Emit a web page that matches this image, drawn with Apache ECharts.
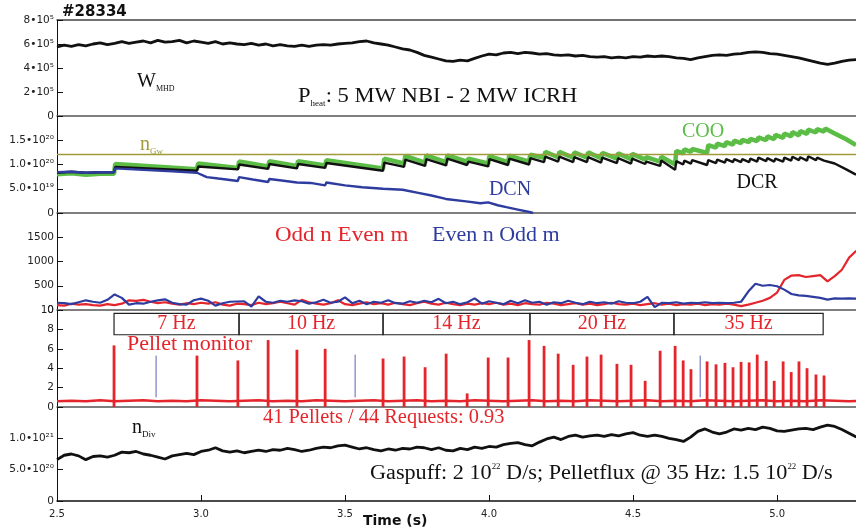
<!DOCTYPE html>
<html>
<head>
<meta charset="utf-8">
<script src="https://cdn.jsdelivr.net/npm/echarts@6/dist/echarts.min.js"></script>
<style>
  html, body { margin: 0; padding: 0; background: #fff; }
  #chart { width: 856px; height: 530px; }
</style>
</head>
<body>
<div id="chart"></div>
<script>
// evenly sampled traces start at T0 and step by DT seconds
const T0 = 2.5;
const DT = 0.025;
const T_MIN = 2.5;
const T_MAX = 5.274;

// W_MHD in units of 1e5 J
const wmhd = [
  5.75, 5.9, 5.8, 5.95, 5.85, 6.0, 6.1, 5.95, 6.05, 6.2,
  6.05, 6.15, 6.25, 6.1, 6.3, 6.15, 6.2, 6.3, 6.1, 6.25,
  6.15, 6.05, 6.2, 6.0, 6.1, 6.0, 5.95, 6.05, 5.9, 6.0,
  5.85, 5.95, 5.85, 5.8, 5.9, 5.8, 5.9, 5.95, 5.9, 6.0,
  6.05, 6.1, 6.2, 6.25, 6.1, 6.0, 5.9, 5.75, 5.6, 5.5,
  5.3, 5.05, 4.9, 4.75, 4.6, 4.55, 4.65, 4.6, 4.8, 5.0,
  5.15, 5.1, 5.25, 5.3, 5.2, 5.3, 5.25, 5.15, 5.2, 5.1,
  5.05, 5.1, 5.0, 5.05, 4.95, 4.9, 4.95, 4.85, 4.9, 4.85,
  4.95, 4.9, 5.0, 4.95, 5.0, 4.95, 4.85, 4.8, 4.7, 4.85,
  4.95, 5.05, 5.1, 5.05, 5.15, 5.2, 5.3, 5.35, 5.3, 5.2,
  5.15, 5.05, 4.95, 4.85, 4.7, 4.55, 4.4, 4.3, 4.4, 4.55,
  4.65, 4.7
];

// line densities in units of 1e19 m^-3, sampled around each pellet
const denT = [
  2.50, 2.55, 2.60, 2.65,
  2.698, 2.702, 2.986, 2.990, 3.128, 3.132, 3.233, 3.237, 3.333, 3.337,
  3.431, 3.435, 3.632, 3.636, 3.705, 3.709, 3.778, 3.782, 3.851, 3.855,
  3.924, 3.928, 3.997, 4.001, 4.066, 4.070, 4.139, 4.143, 4.191, 4.195,
  4.240, 4.244, 4.292, 4.296, 4.340, 4.344, 4.389, 4.393, 4.444, 4.448,
  4.493, 4.497, 4.542, 4.546, 4.594, 4.598, 4.646, 4.650, 4.674, 4.678,
  4.701, 4.705, 4.757, 4.761, 4.788, 4.792, 4.819, 4.823, 4.847, 4.851,
  4.875, 4.879, 4.903, 4.907, 4.931, 4.935, 4.962, 4.966, 4.990, 4.994,
  5.021, 5.025, 5.049, 5.053, 5.076, 5.080, 5.104, 5.108, 5.135, 5.139,
  5.163, 5.167,
  5.200, 5.240, 5.274
];
const dcr = [
  8.3, 8.5, 8.3, 8.4,
  8.4, 9.5, 8.7, 9.6, 9.0, 10.0, 9.1, 10.1, 9.2, 10.1,
  9.3, 10.3, 8.7, 10.4, 9.5, 11.0, 9.7, 11.1, 9.8, 11.2,
  9.9, 10.6, 9.6, 11.1, 9.9, 11.2, 10.0, 11.3, 10.5, 11.6,
  10.6, 11.6, 10.5, 11.5, 10.5, 11.5, 10.4, 11.4, 10.3, 11.3,
  10.2, 11.2, 10.1, 10.6, 9.7, 10.8, 8.9, 10.7, 10.0, 10.8,
  10.2, 10.9, 9.9, 10.9, 10.3, 11.0, 10.4, 11.1, 10.5, 11.1,
  10.5, 11.1, 10.5, 11.2, 10.6, 11.4, 10.7, 11.3, 10.6, 11.2,
  10.6, 11.4, 10.8, 11.6, 10.9, 11.5, 10.8, 11.7, 10.9, 11.4,
  10.8, 11.2,
  10.2, 9.0, 7.9
];
const coo = [
  8.0, 8.2, 7.9, 8.1,
  8.1, 10.1, 9.0, 10.2, 9.3, 10.6, 9.6, 10.7, 9.7, 10.7,
  9.8, 10.9, 9.2, 11.2, 10.2, 11.8, 10.4, 11.9, 10.5, 11.9,
  10.6, 11.2, 10.2, 11.7, 10.5, 11.8, 10.6, 12.0, 11.4, 12.6,
  11.5, 12.6, 11.4, 12.5, 11.4, 12.5, 11.3, 12.4, 11.2, 12.3,
  11.1, 12.2, 11.0, 11.5, 10.6, 11.6, 10.0, 12.8, 12.3, 13.1,
  12.6, 13.2, 12.4, 14.0, 13.5, 14.3, 13.8, 14.6, 14.1, 14.9,
  14.4, 15.1, 14.6, 15.3, 14.8, 15.6, 15.0, 15.8, 15.2, 16.1,
  15.5, 16.4, 15.8, 16.7, 16.0, 16.9, 16.3, 17.2, 16.6, 17.3,
  16.8, 17.4,
  16.4, 15.2, 14.0
];
const dcnT = [
  2.50, 2.55, 2.60, 2.65, 2.698, 2.702, 2.80, 2.90, 2.986, 3.02,
  3.06, 3.128, 3.132, 3.18, 3.233, 3.237, 3.28, 3.333, 3.337, 3.38,
  3.431, 3.435, 3.50, 3.56, 3.632, 3.636, 3.70, 3.75, 3.80, 3.85,
  3.92, 3.97, 3.997, 4.03, 4.06, 4.10, 4.14, 4.153
];
const dcn = [
  8.4, 8.5, 8.3, 8.4, 8.4, 9.2, 8.9, 8.6, 8.3, 7.4,
  7.1, 6.6, 7.4, 6.9, 6.4, 7.0, 6.7, 6.3, 6.7, 6.2,
  5.7, 6.3, 5.7, 5.3, 5.0, 5.3, 4.8, 4.2, 3.6, 2.9,
  2.4, 2.0, 2.2, 1.6, 1.2, 0.7, 0.2, 0.0
];
const nGW = 12.1;

// MHD mode amplitudes
const oddEven = [
  100, 90, 130, 110, 120, 100, 90, 120, 100, 130,
  200, 190, 210, 170, 140, 160, 130, 110, 140, 120,
  150, 130, 160, 110, 90, 130, 120, 100, 150, 120,
  140, 170, 140, 110, 210, 160, 130, 110, 140, 200,
  120, 100, 130, 160, 120, 140, 110, 150, 120, 100,
  140, 170, 130, 110, 150, 120, 100, 130, 110, 140,
  120, 150, 110, 130, 100, 140, 120, 110, 150, 130,
  100, 120, 140, 110, 130, 100, 120, 150, 120, 110,
  130, 100, 120, 140, 110, 130, 100, 120, 110, 130,
  100, 120, 110, 130, 110, 80, 110, 150, 190, 250,
  360, 620, 710, 720, 680, 700, 720, 590, 700, 830,
  1080, 1220
];
const evenOdd = [
  150, 140, 120, 160, 200, 170, 150, 210, 320, 250,
  110, 140, 130, 170, 200, 220, 150, 120, 110, 200,
  235, 190, 90, 140, 170, 175, 180, 70, 280, 170,
  150, 190, 170, 200, 180, 130, 160, 210, 150, 170,
  260, 140, 190, 120, 170, 150, 200, 140, 130, 180,
  150, 190, 160, 230, 140, 170, 120, 160, 240, 130,
  180, 150, 120, 190, 140, 200, 150, 170, 110, 160,
  140, 190, 150, 120, 170, 140, 160, 130, 180, 150,
  140, 170, 270, 60, 150, 140, 160, 130, 150, 140,
  160, 140, 150, 140, 150, 170, 380, 540, 500, 515,
  490, 420, 330, 300, 290, 270, 250, 215, 240, 235,
  240, 235
];

// pellet monitor: spike times and heights, missed requests listed by index
const pelletT = [
  2.698, 2.844, 2.986, 3.128, 3.233, 3.333, 3.431, 3.535, 3.632, 3.705,
  3.778, 3.851, 3.924, 3.997, 4.066, 4.139, 4.191, 4.240, 4.292, 4.340,
  4.389, 4.444, 4.493, 4.542, 4.594, 4.646, 4.674, 4.701, 4.733, 4.757,
  4.788, 4.819, 4.847, 4.875, 4.903, 4.931, 4.962, 4.990, 5.021, 5.049,
  5.076, 5.104, 5.135, 5.163
];
const pelletH = [
  6.35, 5.3, 5.3, 4.8, 6.9, 5.9, 6.0, 5.4, 5.0, 5.2,
  4.1, 5.5, 1.4, 5.1, 5.1, 6.9, 6.3, 5.5, 4.35, 5.2,
  5.4, 4.45, 4.35, 2.7, 5.8, 6.3, 4.8, 3.9, 5.3, 4.7,
  4.4, 4.55, 4.1, 4.65, 4.6, 5.4, 4.75, 2.7, 4.7, 3.6,
  4.7, 4.0, 3.35, 3.25
];
const missed = [1, 7, 28];
const PEL_DT = 0.05;
const pelletBase = [
  0.6, 0.65, 0.6, 0.7, 0.6, 0.65, 0.7, 0.6, 0.65, 0.6,
  0.7, 0.65, 0.6, 0.65, 0.7, 0.6, 0.65, 0.6, 0.7, 0.65,
  0.6, 0.65, 0.7, 0.6, 0.65, 0.7, 0.6, 0.65, 0.6, 0.7,
  0.65, 0.6, 0.65, 0.7, 0.6, 0.65, 0.6, 0.7, 0.65, 0.6,
  0.65, 0.7, 0.6, 0.65, 0.6, 0.7, 0.65, 0.6, 0.65, 0.7,
  0.6, 0.65, 0.6, 0.7, 0.65, 0.6, 0.65
];
const rateNames = ['7 Hz', '10 Hz', '14 Hz', '20 Hz', '35 Hz'];
const rateEdges = [2.698, 3.132, 3.632, 4.142, 4.642, 5.160];

// divertor neutral flux in units of 1e20
const ndiv = [
  6.6, 7.3, 7.5, 7.2, 6.6, 7.1, 7.2, 7.0, 7.3, 7.8,
  7.7, 7.9, 7.5, 7.3, 7.0, 6.7, 7.2, 7.4, 7.6, 7.4,
  7.9, 8.1, 8.5, 8.0, 7.8, 8.0, 7.7, 7.9, 8.1, 7.9,
  8.2, 8.1, 8.4, 8.2, 7.9, 8.1, 8.4, 8.6, 8.5, 8.8,
  8.9, 8.6, 8.3, 8.5, 8.2, 8.0, 8.3, 8.1, 8.4, 8.3,
  8.6, 8.5, 8.2, 8.5, 8.1, 8.0, 8.4, 8.2, 8.6, 8.4,
  8.7, 8.6, 9.0, 9.2, 9.3, 9.0, 8.8, 9.4, 9.9, 10.2,
  9.8, 10.3, 10.5, 10.2, 10.4, 10.5, 10.3, 10.6, 10.4, 10.7,
  10.9, 10.5, 10.3, 10.5, 10.3, 10.0, 9.8, 9.5, 10.2, 11.1,
  11.5, 11.0, 10.7, 11.0, 11.5, 11.3, 11.6, 11.4, 11.8, 11.6,
  11.2, 11.1, 11.3, 11.5, 11.6, 11.4, 11.8, 12.1, 11.9, 11.4,
  10.8, 10.2
];

// tick labels
const timeTicks = ['2.5', '3.0', '3.5', '4.0', '4.5', '5.0'];
const wTicks = ['0', '2•10⁵', '4•10⁵', '6•10⁵', '8•10⁵'];
const neTicks = ['0', '5.0•10¹⁹', '1.0•10²⁰', '1.5•10²⁰', ''];
const modeTicks = ['0', '500', '1000', '1500', ''];
const pelTicks = ['0', '2', '4', '6', '8', '10'];
const divTicks = ['0', '5.0•10²⁰', '1.0•10²¹', ''];

const SERIF = '"Liberation Serif", "DejaVu Serif", serif';
const SANS = '"DejaVu Sans", "Liberation Sans", sans-serif';
const RED = '#e4252b';
const BLUE = '#2d3c9e';
const GREEN = '#5bbd45';
const OLIVE = '#a09a3a';

const even = (arr, t0, dt) => arr.map((v, i) => [+(t0 + i * dt).toFixed(3), v]);
const pairs = (ts, vs) => ts.map((t, i) => [t, vs[i]]);

const panels = [
  { top: 20, height: 96, max: 8, interval: 2, ticks: wTicks },
  { top: 116, height: 97, max: 20, interval: 5, ticks: neTicks },
  { top: 213, height: 97, max: 2000, interval: 500, ticks: modeTicks },
  { top: 310, height: 97, max: 10, interval: 2, ticks: pelTicks },
  { top: 407, height: 94, max: 15, interval: 5, ticks: divTicks }
];

const chart = echarts.init(document.getElementById('chart'), null, { renderer: 'canvas' });

const grid = panels.map(p => ({ left: 57, right: 0, top: p.top, height: p.height, outerBoundsMode: 'none' }));

const xAxis = panels.map((p, i) => ({
  gridIndex: i, type: 'value', min: T_MIN, max: T_MAX, interval: 0.5,
  axisLine: { show: true, lineStyle: { color: i === 4 ? '#111' : '#555', width: 1.5 } },
  axisTick: { show: i === 4, inside: true, length: 6, lineStyle: { color: '#111' } },
  axisLabel: {
    show: i === 4, showMaxLabel: false, margin: 8, fontSize: 10, color: '#222', fontFamily: SANS,
    formatter: v => timeTicks[Math.round((v - T_MIN) / 0.5)] || ''
  },
  splitLine: { show: false }
}));
xAxis.push({
  gridIndex: 0, type: 'value', position: 'top', min: T_MIN, max: T_MAX,
  axisLine: { show: true, lineStyle: { color: '#444', width: 1.5 } },
  axisTick: { show: false }, axisLabel: { show: false }, splitLine: { show: false }
});

const yAxis = panels.map((p, i) => ({
  gridIndex: i, type: 'value', min: 0, max: p.max, interval: p.interval,
  axisLine: { show: true, lineStyle: { color: '#111', width: 1 } },
  axisTick: { show: true, inside: true, length: 6, lineStyle: { color: '#111' } },
  axisLabel: {
    margin: 3, fontSize: 10.5, color: '#222', fontFamily: SANS,
    formatter: v => p.ticks[Math.round(v / p.interval)] || ''
  },
  splitLine: { show: false }
}));

const lineBase = { type: 'line', showSymbol: false, symbol: 'none', silent: true, animation: false };

const series = [
  Object.assign({}, lineBase, {
    name: 'W_MHD', xAxisIndex: 0, yAxisIndex: 0, data: even(wmhd, T0, DT),
    lineStyle: { color: '#111', width: 2.8 }
  }),
  Object.assign({}, lineBase, {
    name: 'COO', xAxisIndex: 1, yAxisIndex: 1, data: pairs(denT, coo),
    lineStyle: { color: GREEN, width: 4.5 },
    markLine: {
      silent: true, symbol: 'none', label: { show: false }, animation: false,
      lineStyle: { color: OLIVE, type: 'solid', width: 1.3 },
      data: [{ yAxis: nGW }]
    }
  }),
  Object.assign({}, lineBase, {
    name: 'DCR', xAxisIndex: 1, yAxisIndex: 1, data: pairs(denT, dcr),
    lineStyle: { color: '#111', width: 2.4 }
  }),
  Object.assign({}, lineBase, {
    name: 'DCN', xAxisIndex: 1, yAxisIndex: 1, data: pairs(dcnT, dcn),
    lineStyle: { color: BLUE, width: 2.4 }
  }),
  Object.assign({}, lineBase, {
    name: 'Odd n Even m', xAxisIndex: 2, yAxisIndex: 2, data: even(oddEven, T0, DT),
    lineStyle: { color: RED, width: 2.2 }
  }),
  Object.assign({}, lineBase, {
    name: 'Even n Odd m', xAxisIndex: 2, yAxisIndex: 2, data: even(evenOdd, T0, DT),
    lineStyle: { color: BLUE, width: 2.2 }
  }),
  {
    type: 'custom', name: 'pellets', xAxisIndex: 3, yAxisIndex: 3, silent: true, animation: false,
    data: pelletT.map((t, i) => [t, pelletH[i], missed.includes(i) ? 1 : 0]),
    encode: { x: 0, y: 1 },
    renderItem: (params, api) => {
      const miss = api.value(2) === 1;
      const p0 = api.coord([api.value(0), miss ? 1 : 0]);
      const p1 = api.coord([api.value(0), api.value(1)]);
      return {
        type: 'line',
        shape: { x1: p0[0], y1: p0[1], x2: p1[0], y2: p1[1] },
        style: { stroke: miss ? '#5a63b8' : RED, lineWidth: miss ? 1 : 2.8 }
      };
    }
  },
  Object.assign({}, lineBase, {
    name: 'monitor', xAxisIndex: 3, yAxisIndex: 3, data: even(pelletBase, T0, PEL_DT),
    lineStyle: { color: RED, width: 2.5 }, z: 3,
    markArea: {
      silent: true, animation: false,
      itemStyle: { color: 'rgba(0,0,0,0)', borderColor: '#222', borderWidth: 1.2 },
      label: { show: true, position: 'inside', color: RED, fontFamily: SERIF, fontSize: 20 },
      data: rateNames.map((n, i) => [
        { name: n, xAxis: rateEdges[i], yAxis: 9.65 },
        { xAxis: rateEdges[i + 1], yAxis: 7.45 }
      ])
    }
  }),
  Object.assign({}, lineBase, {
    name: 'n_Div', xAxisIndex: 4, yAxisIndex: 4, data: even(ndiv, T0, DT),
    lineStyle: { color: '#111', width: 2.8 }
  })
];

const rt = (size, color, extra) => Object.assign({ fontSize: size, fontFamily: SERIF, fill: color }, extra || {});
const text = (x, y, str, rich, align, sx) => ({
  type: 'text', x: x, y: y, silent: true, scaleX: sx || 1,
  style: { text: str, rich: rich, align: align || 'left', verticalAlign: 'middle' }
});

const graphic = [
  { type: 'text', x: 62, y: 12, silent: true,
    style: { text: '#28334', font: 'bold 15px "DejaVu Sans"', fill: '#111', verticalAlign: 'middle' } },
  text(137, 82, '{a|W}{b|MHD}', {
    a: rt(20, '#111', { lineHeight: 22 }),
    b: rt(8, '#111', { lineHeight: 9, verticalAlign: 'bottom' })
  }),
  text(298, 97, '{a|P}{b|heat}{a|: 5 MW NBI - 2 MW ICRH}', {
    a: rt(20, '#111', { lineHeight: 22 }),
    b: rt(8, '#111', { lineHeight: 9, verticalAlign: 'bottom' })
  }, 'left', 1.13),
  text(140, 145, '{a|n}{b|Gw}', {
    a: rt(20, OLIVE, { lineHeight: 22 }),
    b: rt(9, OLIVE, { lineHeight: 10, verticalAlign: 'bottom' })
  }),
  text(703, 132, '{a|COO}', { a: rt(20, GREEN) }, 'center'),
  text(757, 183, '{a|DCR}', { a: rt(20, '#111') }, 'center'),
  text(510, 190, '{a|DCN}', { a: rt(20, BLUE) }, 'center'),
  text(275, 236, '{a|Odd n Even m}', { a: rt(20, RED) }, 'left', 1.15),
  text(432, 236, '{a|Even n Odd m}', { a: rt(20, BLUE) }, 'left', 1.1),
  text(127, 345, '{a|Pellet monitor}', { a: rt(20, RED) }, 'left', 1.1),
  text(263, 418, '{a|41 Pellets / 44 Requests: 0.93}', { a: rt(20, RED) }, 'left', 1.02),
  text(132, 428, '{a|n}{b|Div}', {
    a: rt(20, '#111', { lineHeight: 22 }),
    b: rt(9, '#111', { lineHeight: 10, verticalAlign: 'bottom' })
  }),
  text(370, 474, '{a|Gaspuff: 2 10}{s|22}{a| D/s; Pelletflux @ 35 Hz: 1.5 10}{s|22}{a| D/s}', {
    a: rt(20, '#111', { lineHeight: 22 }),
    s: rt(8, '#111', { lineHeight: 9, verticalAlign: 'top' })
  }, 'left', 1.11),
  { type: 'text', x: 363, y: 521, silent: true,
    style: { text: 'Time (s)', font: 'bold 14px "DejaVu Sans"', fill: '#111', verticalAlign: 'middle' } }
];

chart.setOption({
  backgroundColor: '#fff',
  animation: false,
  grid: grid,
  xAxis: xAxis,
  yAxis: yAxis,
  series: series,
  graphic: graphic
});
</script>
</body>
</html>
